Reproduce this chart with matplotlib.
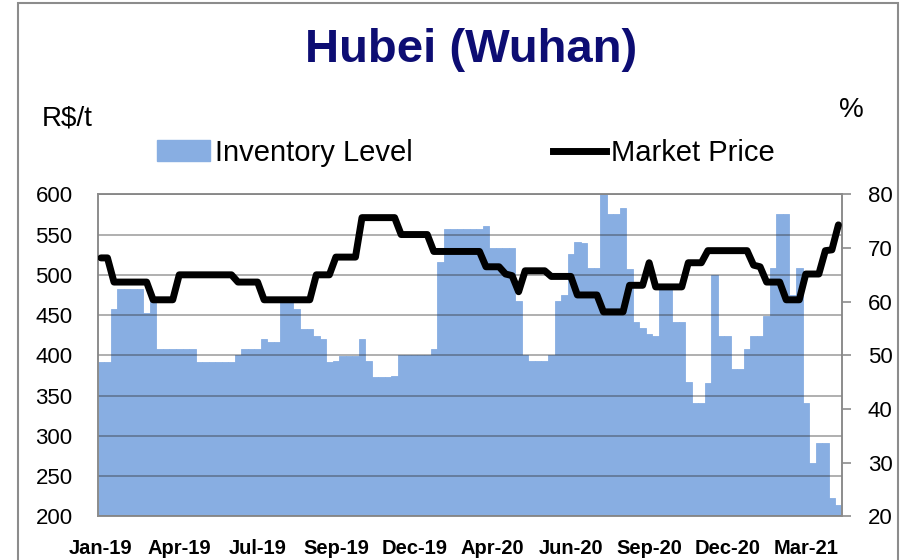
import matplotlib
matplotlib.use('Agg')
import matplotlib.pyplot as plt
from matplotlib.patches import Rectangle, Patch
from matplotlib.lines import Line2D

plt.rcParams['font.family'] = ['Liberation Sans', 'DejaVu Sans']

# Weekly series, Jan-19 .. Apr-21
tick_labels = ['Jan-19', 'Apr-19', 'Jul-19', 'Sep-19', 'Dec-19',
               'Apr-20', 'Jun-20', 'Sep-20', 'Dec-20', 'Mar-21']
label_step = 12

# Inventory level [%] (right axis)
inventory = [48.7, 48.7, 58.7, 62.4, 62.4, 62.4, 62.4, 57.8, 60.2,
             51.2, 51.2, 51.2, 51.2, 51.2, 51.2,
             48.7, 48.7, 48.7, 48.7, 48.7, 48.7,
             50.0, 51.2, 51.2, 51.2, 53.0, 52.5, 52.5, 60.0, 60.0,
             58.7, 55.0, 55.0, 53.7, 53.0, 48.8, 49.0, 49.8, 49.8, 49.8,
             53.0, 49.0, 45.9, 45.9, 45.9, 46.1,
             50.0, 50.0, 50.0, 50.0, 50.0, 51.2, 67.4,
             73.6, 73.6, 73.6, 73.6, 73.6, 73.6, 74.0,
             70.0, 70.0, 70.0, 70.0, 60.1, 50.0, 48.9, 48.9, 49.0,
             50.0, 60.1, 61.3, 68.8, 71.2, 71.0, 66.3, 66.3, 80.0,
             76.3, 76.3, 77.5, 66.0, 56.3, 55.1, 54.0, 53.7, 62.3, 62.3,
             56.3, 56.3, 45.0, 41.2, 41.1, 44.9, 64.9, 53.7, 53.7,
             47.5, 47.5, 51.2, 53.7, 53.7, 57.4, 66.2, 76.3, 76.3,
             61.2, 66.2, 41.1, 30.0, 33.6, 33.6, 23.5, 22.2]

# Market price [R$/t] (left axis)
price = [521, 521, 491, 491, 491, 491, 491, 491,
         469, 469, 469, 469,
         500, 500, 500, 500, 500, 500, 500, 500, 500,
         491, 491, 491, 491,
         469, 469, 469, 469, 469, 469, 469, 469,
         500, 500, 500, 522, 522, 522, 522,
         571, 571, 571, 571, 571, 571,
         550, 550, 550, 550, 550,
         529, 529, 529, 529, 529, 529, 529, 529,
         510, 510, 510, 501, 499, 479, 505, 505, 505, 505,
         498, 498, 498, 498, 475, 475, 475, 475,
         454, 454, 454, 454, 487, 487, 487, 515,
         485, 485, 485, 485, 485, 515, 515, 515,
         530, 530, 530, 530, 530, 530, 530, 512, 510,
         491, 491, 491, 469, 469, 469, 501, 501, 501,
         530, 531, 562]

weeks = list(range(len(inventory)))

BAR = '#88aee2'
GRAY = '#8c8c8c'

fig = plt.figure(figsize=(9.06, 5.6), dpi=100)
ax = fig.add_axes([0.1078, 0.0777, 0.8212, 0.5754])

ax.bar(weeks, inventory, width=1.0, color=BAR, edgecolor=BAR, linewidth=0.6)
ax.set_xlim(-0.5, len(weeks) - 0.5)
ax.set_ylim(20, 80)

ax2 = ax.twinx()
ax.yaxis.tick_right()
ax2.yaxis.tick_left()

ax.set_yticks(range(20, 81, 10))
ax.tick_params(axis='y', direction='out', length=6.7, width=1.2, color=GRAY,
               pad=12, labelsize=16)

ax2.set_ylim(200, 600)
ax2.set_yticks(range(200, 601, 50))
ax2.tick_params(axis='y', length=0, pad=18, labelsize=16)
ax2.grid(axis='y', color='#303030', alpha=0.45, lw=1.2)
ax2.plot(weeks, price, color='black', lw=5, solid_joinstyle='round',
         solid_capstyle='round', zorder=3)

ax.set_xticks(weeks[::label_step])
ax.set_xticklabels(tick_labels, fontsize=14.5, fontweight='bold')
ax.tick_params(axis='x', length=0, pad=16)

for a in (ax, ax2):
    for s in a.spines.values():
        s.set_color(GRAY)
        s.set_linewidth(1.2)

handles = [Patch(color=BAR), Line2D([], [], color='black', lw=5)]
fig.legend(handles, ['Inventory Level', 'Market Price'], loc='center',
           bbox_to_anchor=(0.514, 0.727), ncol=2, frameon=False, fontsize=21,
           handlelength=1.83, handleheight=0.7, handletextpad=0.17,
           columnspacing=4.8)

fig.text(471 / 906, 1 - 50 / 560, 'Hubei (Wuhan)', ha='center', va='center',
         fontsize=34, fontweight='bold', color='#0d0d73')
fig.text(42 / 906, 1 - 118 / 560, r'R\$/t', ha='left', va='center', fontsize=20)
fig.text(851 / 906, 1 - 110 / 560, '%', ha='center', va='center', fontsize=20)

fig.patches.append(Rectangle((18 / 906, -0.05), (898 - 18) / 906, 1.05 - 3 / 560,
                             transform=fig.transFigure, fill=False,
                             edgecolor=GRAY, lw=1.5))

fig.savefig('out.png', dpi=100)
